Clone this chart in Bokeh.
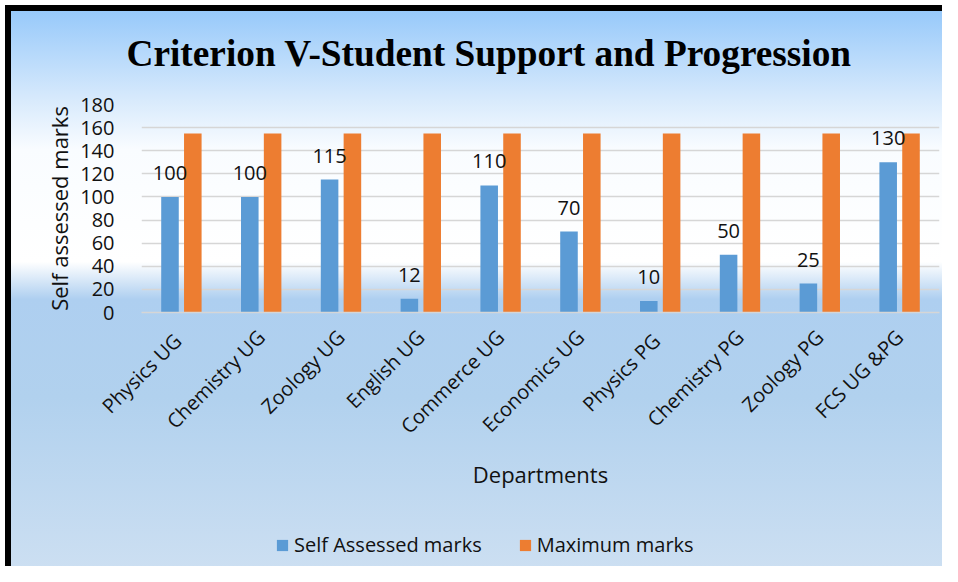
from math import pi
from bokeh.plotting import figure
from bokeh.layouts import column
from bokeh.models import (ColumnDataSource, FactorRange, Range1d, LabelSet, Legend,
                          LegendItem, FixedTicker)
from bokeh.core.properties import value
from bokeh.transform import dodge
from bokeh.embed import file_html
from bokeh.resources import INLINE

# ---- data ----
departments = ["Physics  UG", "Chemistry UG", "Zoology UG", "English UG", "Commerce UG",
               "Economics UG", "Physics  PG", "Chemistry PG", "Zoology PG", "FCS UG &PG"]
self_assessed = [100, 100, 115, 12, 110, 70, 10, 50, 25, 130]
maximum_marks = [155, 155, 155, 155, 155, 155, 155, 155, 155, 155]
y_ticks = [0, 20, 40, 60, 80, 100, 120, 140, 160, 180]
series_names = ["Self Assessed marks", "Maximum marks"]

title_text = "Criterion V-Student Support and Progression"
x_title = "Departments"
y_title = "Self assessed marks"

BLUE = "#5B9BD5"
ORANGE = "#ED7D31"
TXT = "#111111"
FONT = "Open Sans"

src = ColumnDataSource(dict(dept=departments, selfv=self_assessed, maxv=maximum_marks,
                            lbl=[str(v) for v in self_assessed]))

W, H_MAIN, H_LEG = 942, 500, 66


def background(top):
    # chart-area gradient + black frame edges, positioned so both panels join seamlessly
    return ("linear-gradient(#000,#000) 5px %dpx / 953px 6px no-repeat, "
            "linear-gradient(#000,#000) 5px %dpx / 6px 577px no-repeat, "
            "linear-gradient(to bottom, #97C9FA 1%%, #D6E9FC 16%%, #F9FCFF 25%%, #FFFFFF 44.5%%, "
            "#AECFF0 51%%, #B1D1EE 68%%, #CEE0F2 100%%) 5px %dpx / 953px 577px no-repeat, "
            "#FFFFFF") % (5 - top, 5 - top, 5 - top)


xr = FactorRange(*departments)
p = figure(x_range=xr, y_range=Range1d(0, 180),
           width=W, height=H_MAIN, output_backend="svg", toolbar_location=None,
           min_border_left=141, min_border_right=W - 939, min_border_top=104,
           min_border_bottom=H_MAIN - 312)
p.styles = {"background": background(0)}
p.background_fill_color = None
p.border_fill_color = None
p.outline_line_color = None

r1 = p.vbar(x=dodge("dept", -0.143, range=xr), top="selfv", width=0.22,
            source=src, fill_color=BLUE, line_color=None)
r2 = p.vbar(x=dodge("dept", 0.143, range=xr), top="maxv", width=0.22,
            source=src, fill_color=ORANGE, line_color=None)

labels = LabelSet(x=dodge("dept", -0.143, range=xr), y="selfv", text="lbl",
                  source=src, y_offset=17, text_align="center", text_baseline="alphabetic",
                  text_font=value(FONT), text_font_size="20px", text_color=TXT)
p.add_layout(labels)

# title
p.title.text = title_text
p.title.text_font = "Liberation Serif"
p.title.text_font_size = "37.3px"
p.title.text_font_style = "bold"
p.title.text_color = "#000000"
p.title.align = "left"
p.title.vertical_align = "middle"
p.title.offset = -15
p.title.standoff = 60

# grid
p.xgrid.grid_line_color = None
p.ygrid.grid_line_color = "#D6D6D6"
p.ygrid.grid_line_width = 1.5

# y axis
p.yaxis.ticker = FixedTicker(ticks=y_ticks)
p.yaxis.axis_line_color = None
p.yaxis.major_tick_line_color = None
p.yaxis.minor_tick_line_color = None
p.yaxis.major_label_standoff = 21
p.yaxis.major_label_text_font = FONT
p.yaxis.major_label_text_font_size = "20px"
p.yaxis.major_label_text_color = TXT
p.yaxis.axis_label = y_title
p.yaxis.axis_label_text_font = FONT
p.yaxis.axis_label_text_font_size = "22px"
p.yaxis.axis_label_text_font_style = "normal"
p.yaxis.axis_label_text_color = TXT
p.yaxis.axis_label_standoff = 3

# x axis
p.xaxis.axis_line_color = "#D6D6D6"
p.xaxis.axis_line_width = 1.5
p.xaxis.major_tick_line_color = None
p.xaxis.minor_tick_line_color = None
p.xaxis.major_label_orientation = pi / 4
p.xaxis.major_label_standoff = 15
p.xaxis.major_label_text_font = FONT
p.xaxis.major_label_text_font_size = "20px"
p.xaxis.major_label_text_color = TXT
p.xaxis.axis_label = x_title
p.xaxis.axis_label_text_font = FONT
p.xaxis.axis_label_text_font_size = "22px"
p.xaxis.axis_label_text_font_style = "normal"
p.xaxis.axis_label_text_color = TXT
p.xaxis.axis_label_standoff = 7

# ---- legend strip (same chart area, continued below) ----
p2 = figure(width=W, height=H_LEG, x_range=xr, y_range=Range1d(-2, -1),
            output_backend="svg", toolbar_location=None, min_border=0)
p2.styles = {"background": background(H_MAIN)}
p2.background_fill_color = None
p2.border_fill_color = None
p2.outline_line_color = None
p2.axis.visible = False
p2.grid.visible = False
# legend keys reuse the same series; the renderers themselves are hidden in this strip
k1 = p2.vbar(x=dodge("dept", -0.143, range=xr), top="selfv", width=0.22,
             source=src, fill_color=BLUE, line_color=None)
k2 = p2.vbar(x=dodge("dept", 0.143, range=xr), top="maxv", width=0.22,
             source=src, fill_color=ORANGE, line_color=None)
k1.visible = False
k2.visible = False

legend = Legend(items=[LegendItem(label=series_names[0], renderers=[k1]),
                       LegendItem(label=series_names[1], renderers=[k2])],
                orientation="horizontal", location=(134, 8))
legend.background_fill_alpha = 0
legend.border_line_color = None
legend.inactive_fill_alpha = 0
legend.label_text_font = FONT
legend.label_text_font_size = "20px"
legend.label_text_color = TXT
legend.glyph_width = 14
legend.glyph_height = 14
legend.label_standoff = 5
legend.spacing = 36
legend.padding = 0
legend.margin = 0
p2.add_layout(legend)

layout = column(p, p2, spacing=0)
open("out.html", "w").write(file_html(layout, INLINE))
